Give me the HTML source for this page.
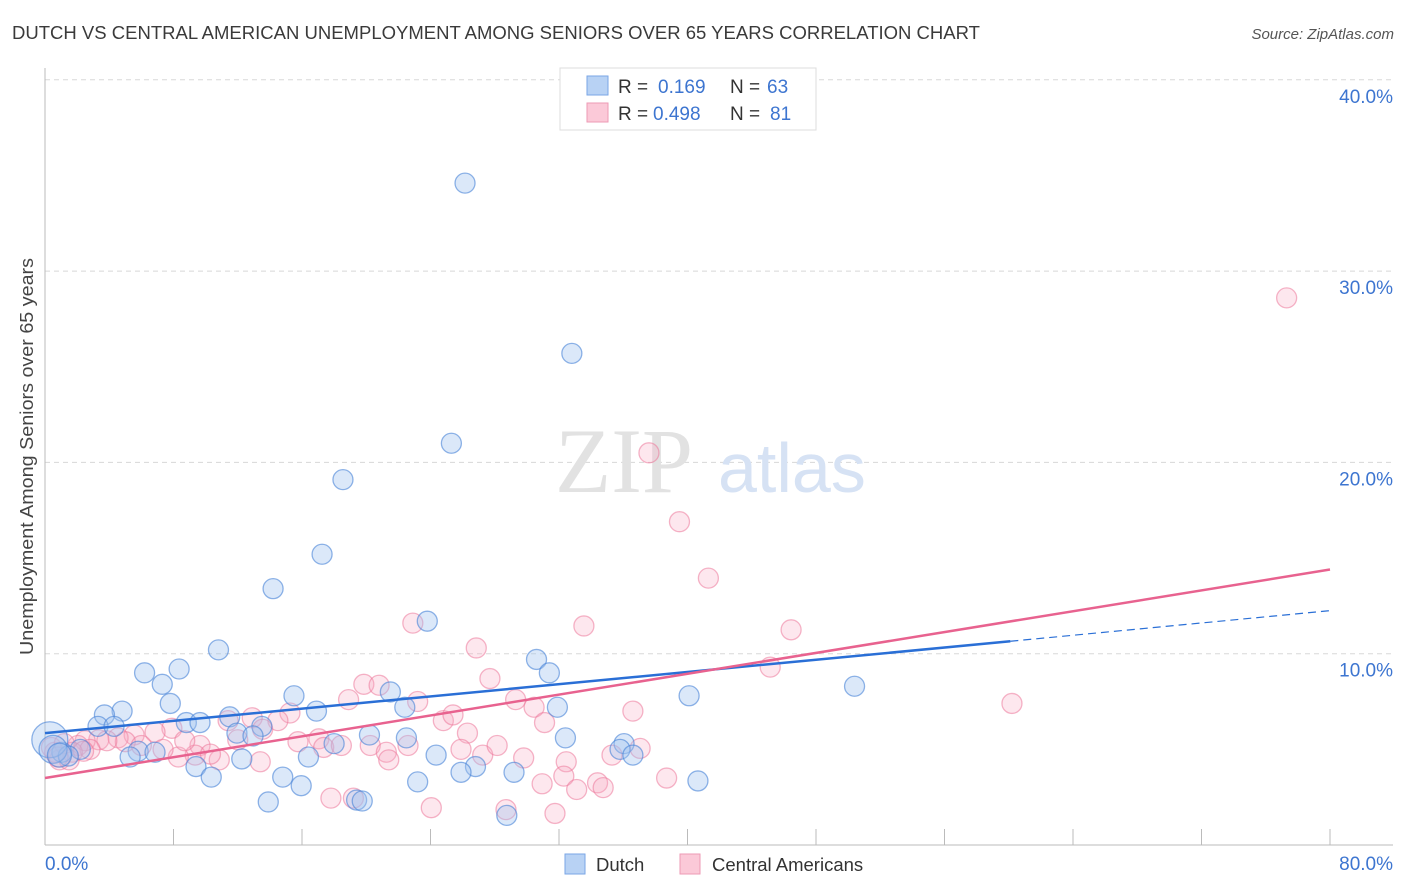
<!DOCTYPE html>
<html><head><meta charset="utf-8"><style>
body{margin:0;background:#fff;font-family:"Liberation Sans",sans-serif;}
svg{display:block}
</style></head><body>
<svg id="chart" width="1406" height="892">
<text x="12" y="39" font-size="18" fill="#3a3a3a" textLength="968" lengthAdjust="spacingAndGlyphs">DUTCH VS CENTRAL AMERICAN UNEMPLOYMENT AMONG SENIORS OVER 65 YEARS CORRELATION CHART</text>
<text x="1394" y="39" font-size="15" fill="#555" font-style="italic" text-anchor="end">Source: ZipAtlas.com</text>
<text transform="translate(33,655) rotate(-90)" font-size="18" fill="#444" textLength="397" lengthAdjust="spacingAndGlyphs">Unemployment Among Seniors over 65 years</text>
<g id="grid"></g>
<g>
<text x="555" y="492" font-family="Liberation Serif,serif" font-size="92" fill="#e2e2e2">ZIP</text>
<text x="718" y="492" font-size="70" fill="#d6e2f4">atlas</text>
</g>
<g id="marks"></g>
<g id="trends"></g>
<g>
<rect x="560" y="68" width="256" height="62" fill="#fff" stroke="#ddd"/>
<rect x="587" y="76" width="21" height="19" fill="#b8d2f4" stroke="#7aa6e6"/>
<rect x="587" y="103" width="21" height="19" fill="#fbc9d8" stroke="#ee9ab5"/>
<text x="618" y="93" font-size="19" fill="#333">R = </text><text x="658" y="93" font-size="19" fill="#3d75d0">0.169</text>
<text x="730" y="93" font-size="19" fill="#333">N = </text><text x="767" y="93" font-size="19" fill="#3d75d0">63</text>
<text x="618" y="120" font-size="19" fill="#333">R = </text><text x="653" y="120" font-size="19" fill="#3d75d0">0.498</text>
<text x="730" y="120" font-size="19" fill="#333">N = </text><text x="770" y="120" font-size="19" fill="#3d75d0">81</text>
</g>
<g>
<rect x="565" y="854" width="20" height="20" fill="#b8d2f4" stroke="#7aa6e6"/>
<text x="596" y="871" font-size="18.5" fill="#333">Dutch</text>
<rect x="680" y="854" width="20" height="20" fill="#fbc9d8" stroke="#ee9ab5"/>
<text x="712" y="871" font-size="18.5" fill="#333">Central Americans</text>
</g>
</svg>
<script>
const yTicks=[10,20,30,40];
const yTickLabels=["10.0%","20.0%","30.0%","40.0%"];
const xTickLabels=["0.0%","80.0%"];
const dutchX=[26.15,32.8,25.3,18.55,17.25,14.2,23.8,10.8,30.6,31.4,6.2,8.35,7.3,7.8,15.5,21.5,50.4,40.1,31.9,22.4,4.8,3.7,16.9,11.5,8.8,9.65,3.3,4.3,13.5,11.95,12.95,20.2,22.5,18.0,32.4,36.05,35.8,36.6,5.8,6.85,5.3,12.25,16.4,24.35,2.2,1.05,1.45,26.8,25.9,29.2,9.4,10.35,14.8,23.2,40.65,15.95,13.9,19.4,19.75,28.75,0.3,0.5,0.9];
const dutchY=[34.6,25.7,21.0,19.1,15.2,13.4,11.7,10.2,9.7,9.0,9.0,9.2,8.4,7.4,7.8,8.0,8.3,7.8,7.2,7.2,7.0,6.8,7.0,6.7,6.4,6.4,6.2,6.2,6.2,5.85,5.7,5.75,5.6,5.3,5.6,5.3,5.0,4.7,4.9,4.85,4.6,4.5,4.6,4.7,5.0,4.85,4.65,4.1,3.8,3.8,4.1,3.55,3.55,3.3,3.35,3.1,2.25,2.35,2.3,1.55,5.5,5.0,4.7];
const dutchSize=[1,1,1,1,1,1,1,1,1,1,1,1,1,1,1,1,1,1,1,1,1,1,1,1,1,1,1,1,1,1,1,1,1,1,1,1,1,1,1,1,1,1,1,1,1,1,1,1,1,1,1,1,1,1,1,1,1,1,1,1,1.8,1.4,1.2];
const centralX=[77.3,37.6,39.5,41.3,33.55,46.45,22.9,26.85,45.15,27.7,19.85,20.8,18.9,23.2,29.3,60.2,30.45,36.6,31.1,24.8,25.4,26.3,15.25,12.9,11.4,7.9,6.85,5.55,4.55,3.35,2.5,2.05,14.5,13.55,12.0,15.75,17.05,17.35,18.45,20.25,21.25,22.6,25.9,27.25,28.15,29.8,21.4,9.65,9.35,8.3,10.85,13.4,32.45,37.05,35.3,32.3,33.1,34.4,34.75,38.7,30.95,24.05,28.7,31.75,17.8,19.2,5.0,3.85,2.8,1.7,0.6,0.9,1.5,6.0,10.3,7.35,8.7,0.4,1.2,2.4,0.8];
const centralY=[28.6,20.5,16.9,13.95,11.45,11.25,11.6,10.3,9.3,8.7,8.4,8.35,7.6,7.5,7.6,7.4,7.2,7.0,6.4,6.5,6.8,5.85,6.9,6.65,6.5,6.1,5.9,5.75,5.6,5.5,5.45,5.2,6.5,6.05,5.5,5.4,5.55,5.1,5.2,5.2,4.85,5.2,5.0,4.7,5.2,4.55,4.45,5.2,4.7,4.6,4.45,4.35,4.35,5.05,4.7,3.6,2.9,3.25,3.0,3.5,3.2,1.95,1.85,1.65,2.45,2.45,5.4,5.45,5.0,4.85,4.85,4.45,4.45,5.2,4.75,5.0,5.45,5.1,5.3,4.9,4.6];
const dutchTrend=[[0,5.85],[60.1,10.65],[80,12.25]];
const centralTrend=[[0,3.5],[80,14.4]];
const X=v=>45+v*(1285/80);
const Y=v=>845-v*19.13;
const NS="http://www.w3.org/2000/svg";
function mk(tag,attrs,parent){const e=document.createElementNS(NS,tag);for(const k in attrs)e.setAttribute(k,attrs[k]);parent.appendChild(e);return e;}
const grid=document.getElementById('grid');
yTicks.forEach((t,i)=>{
 const l=mk('line',{x1:45,x2:1393,y1:Y(t),y2:Y(t),stroke:'#d8d8d8','stroke-dasharray':'5,4'},grid);
 
 
 const tx=mk('text',{x:1393,y:Y(t)+23,'font-size':19,fill:'#3d75d0','text-anchor':'end'},grid);
 tx.textContent=yTickLabels[i];
 
 
});
const ax=mk('line',{x1:45,x2:1393,y1:845,y2:845,stroke:'#bbb'},grid);


const ay=mk('line',{x1:45,x2:45,y1:68,y2:845,stroke:'#bbb'},grid);


for(let t=8;t<=80;t+=8){
 const tk=mk('line',{x1:X(t),x2:X(t),y1:829,y2:845,stroke:'#bbb'},grid);
 
 
}
const xl0=mk('text',{x:45,y:870,'font-size':19,fill:'#3d75d0'},grid);xl0.textContent=xTickLabels[0];


const xl1=mk('text',{x:1393,y:870,'font-size':19,fill:'#3d75d0','text-anchor':'end'},grid);xl1.textContent=xTickLabels[1];


const marks=document.getElementById('marks');
centralX.forEach((v,i)=>{
 const c=mk('circle',{cx:X(v),cy:Y(centralY[i]),r:10,fill:'rgba(248,170,195,0.28)',stroke:'rgba(236,120,155,0.55)','stroke-width':1.3},marks);
 
 
});
dutchX.forEach((v,i)=>{
 const c=mk('circle',{cx:X(v),cy:Y(dutchY[i]),r:10*dutchSize[i],fill:'rgba(160,195,240,0.38)',stroke:'rgba(70,130,215,0.6)','stroke-width':1.3},marks);
 
 
});
const tr=document.getElementById('trends');
const b1=mk('line',{x1:X(dutchTrend[0][0]),y1:Y(dutchTrend[0][1]),x2:X(dutchTrend[1][0]),y2:Y(dutchTrend[1][1]),stroke:'#2a6fd6','stroke-width':2.5},tr);


const b2=mk('line',{x1:X(dutchTrend[1][0]),y1:Y(dutchTrend[1][1]),x2:X(dutchTrend[2][0]),y2:Y(dutchTrend[2][1]),stroke:'#2a6fd6','stroke-width':1.2,'stroke-dasharray':'8,5'},tr);


const p1=mk('line',{x1:X(centralTrend[0][0]),y1:Y(centralTrend[0][1]),x2:X(centralTrend[1][0]),y2:Y(centralTrend[1][1]),stroke:'#e8628f','stroke-width':2.5},tr);


</script>
</body></html>
